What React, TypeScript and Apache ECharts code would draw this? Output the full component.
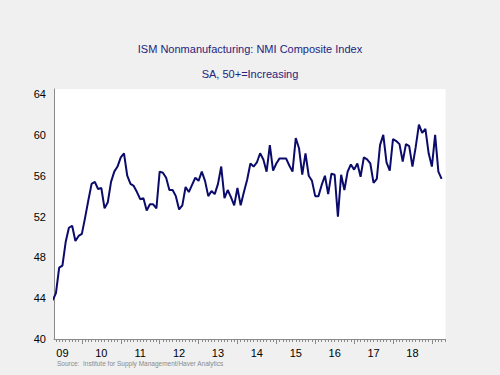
import React, { useEffect, useRef } from "react";
import * as echarts from "echarts";

// Monthly ISM NMI Composite Index, starting April 2009, ending April 2019
const startYear = 2009;
const startMonth = 4; // April
const nmiValues = [
  43.8, 44.5, 47.0, 47.2, 49.5, 50.9, 51.1, 49.6, 50.1, 50.3,
  51.9, 53.6, 55.2, 55.4, 54.7, 54.8, 52.8, 53.4, 55.4, 56.4,
  56.9, 57.8, 58.2, 56.0, 55.2, 55.0, 54.4, 53.7, 53.8, 52.6,
  53.2, 53.2, 52.8, 56.4, 56.3, 55.8, 54.6, 54.6, 54.0, 52.7,
  53.1, 54.9, 54.4, 55.1, 55.8, 55.5, 56.4, 55.5, 54.0, 54.5,
  54.2, 55.2, 56.9, 53.8, 54.6, 53.9, 53.1, 54.8, 53.1, 54.4,
  55.6, 57.2, 56.9, 57.3, 58.2, 57.6, 56.4, 59.0, 56.5, 57.2,
  57.7, 57.7, 57.7, 57.0, 56.4, 59.7, 58.7, 56.1, 58.2, 56.0,
  55.5, 54.0, 54.0, 55.1, 56.0, 54.2, 56.2, 56.1, 52.0, 56.1,
  54.6, 56.4, 57.1, 56.6, 57.2, 55.9, 57.8, 57.6, 57.2, 55.3,
  55.7, 59.0, 60.0, 57.3, 56.5, 59.6, 59.4, 59.1, 57.4, 59.1,
  58.9, 56.9, 58.8, 61.0, 60.2, 60.6, 58.2, 56.9, 60.0, 56.4,
  55.7,
];
const yearLabels = ["09", "10", "11", "12", "13", "14", "15", "16", "17", "18"];
const yTicks = [40, 44, 48, 52, 56, 60, 64];

const titleText = "ISM Nonmanufacturing: NMI Composite Index";
const subtitleText = "SA, 50+=Increasing";
const sourceText = "Source:  Institute for Supply Management/Haver Analytics";

export default function App() {
  const ref = useRef<HTMLDivElement>(null);

  useEffect(() => {
    if (!ref.current) return;
    const chart = echarts.init(ref.current, undefined, { renderer: "svg" });

    // month index: 0 = Jan of startYear
    const offset = startMonth - 1;
    const seriesData = nmiValues.map((v, i) => [offset + i, v]);
    const yearMid = yearLabels.map((_, i) => i * 12 + 6);
    const yearStart = yearLabels.map((_, i) => (i + 1) * 12);
    const months: number[] = [];
    for (let m = 4; m <= 124; m++) months.push(m);
    const labelMap: Record<number, string> = {};
    yearMid.forEach((m, i) => (labelMap[m] = yearLabels[i]));

    const font = "Liberation Sans, Arial, sans-serif";
    const xMin = 3.4;
    const xMax = 124.2;

    chart.setOption({
      animation: false,
      backgroundColor: "#f0f0f0",
      title: [
        {
          text: titleText,
          left: "center",
          top: 38,
          textStyle: { fontSize: 11, fontWeight: "normal", color: "#24247e", fontFamily: font },
        },
        {
          text: subtitleText,
          left: "center",
          top: 63,
          textStyle: { fontSize: 11, fontWeight: "normal", color: "#24247e", fontFamily: font },
        },
      ],
      grid: {
        left: 54,
        right: 54.5,
        top: 89,
        bottom: 36,
        show: true,
        backgroundColor: "#ffffff",
        borderWidth: 0,
      },
      xAxis: [
        {
          type: "value",
          min: xMin,
          max: xMax,
          position: "bottom",
          axisLine: { show: true, onZero: false, lineStyle: { color: "#8a8a8a", width: 1 } },
          axisTick: { show: true, customValues: yearStart, length: 5, lineStyle: { color: "#8a8a8a" } },
          axisLabel: {
            customValues: yearMid,
            formatter: (v: number) => labelMap[Math.round(v)] ?? "",
            fontSize: 11,
            lineHeight: 12,
            color: "#000",
            fontFamily: font,
            margin: 8,
          },
          splitLine: { show: false },
        },
        {
          type: "value",
          min: xMin,
          max: xMax,
          position: "bottom",
          axisLine: { show: false, onZero: false },
          axisTick: { show: true, customValues: months, length: 3, lineStyle: { color: "#8a8a8a" } },
          axisLabel: { show: false },
          splitLine: { show: false },
        },
      ],
      yAxis: {
        type: "value",
        min: 40,
        max: 64.5,
        axisLine: { show: true, lineStyle: { color: "#8a8a8a", width: 1 } },
        axisTick: { show: false },
        axisLabel: {
          customValues: yTicks,
          fontSize: 11,
          color: "#000",
          fontFamily: font,
          margin: 8,
        },
        splitLine: { show: false },
      },
      graphic: [
        {
          type: "text",
          left: 57,
          top: 360,
          style: { text: sourceText, fontSize: 6.5, fill: "#8a8a8a", fontFamily: font },
        },
      ],
      series: [
        {
          type: "line",
          data: seriesData,
          xAxisIndex: 0,
          showSymbol: false,
          symbol: "none",
          clip: true,
          lineStyle: { color: "#0b0b6b", width: 2 },
        },
      ],
    });

    return () => chart.dispose();
  }, []);

  return (
    <div
      ref={ref}
      style={{ position: "fixed", left: 0, top: 0, width: 500, height: 375 }}
    />
  );
}
